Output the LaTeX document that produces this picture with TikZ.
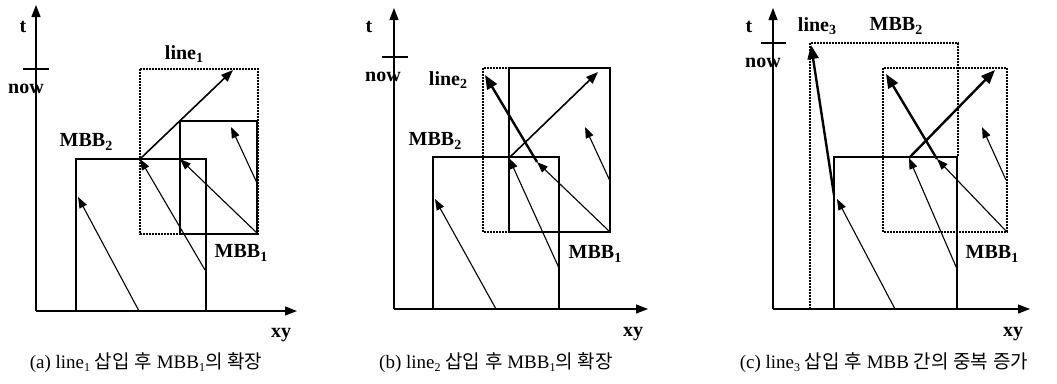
\documentclass[tikz,border=0pt]{standalone}
\usepackage{fontspec}
\setmainfont{Liberation Serif}
\newfontfamily\krfont{Noto Sans CJK KR}
\usetikzlibrary{arrows.meta}
\newcommand\lowsub[1]{\raisebox{-0.35ex}{\fontsize{14}{14}\selectfont #1}}
\newcommand\capsub[1]{\raisebox{-0.3ex}{\fontsize{12}{12}\selectfont #1}}
\begin{document}
\begin{tikzpicture}[x=1pt,y=-1pt,
  ax/.style={line width=1.3pt,-{Triangle[length=12pt,width=9pt]}},
  tk/.style={line width=1.3pt},
  box/.style={line width=1.3pt},
  dbox/.style={line width=1.6pt,dash pattern=on 1.6pt off 1.4pt},
  thinarr/.style={line width=1.1pt,-{Triangle[length=11pt,width=8pt]}},
  thickarr/.style={line width=2.4pt,-{Triangle[length=14pt,width=11pt]}},
  midarr/.style={line width=1.6pt,-{Triangle[length=12pt,width=9pt]}},
  lbl/.style={font=\fontsize{20}{20}\selectfont\bfseries,inner sep=0pt},
  captxt/.style={font=\fontsize{19}{19}\selectfont,inner sep=0pt}]
\useasboundingbox (0,0) rectangle (1057,383);

% ---------------- panel (a) ----------------
\coordinate (aO) at (36,311);
\coordinate (aT) at (36,5);
\coordinate (aX) at (297,311);
\coordinate (aK1) at (23,69);
\coordinate (aK2) at (49,69);
\draw[ax] (aO) -- (aT);
\draw[ax] (aO) -- (aX);
\draw[tk] (aK1) -- (aK2);
\node[lbl] (at) at (23,27) {t};
\node[lbl] (anow) at (26,89) {now};
\node[lbl] (aline) at (184,54) {line\lowsub{1}};
\node[lbl] (ambb2) at (86,142) {MBB\lowsub{2}};
\node[lbl] (ambb1) at (241,253) {MBB\lowsub{1}};
\node[lbl] (axy) at (281,335) {xy};
\draw[dbox] (140,69) rectangle (258,234);
\draw[box] (180,121) rectangle (257,234);
\draw[box] (76,311) -- (76,159) -- (206,159) -- (206,311);
\coordinate (a1s) at (257,233); \coordinate (a1e) at (180,159);
\coordinate (a2s) at (257,183); \coordinate (a2e) at (231,127);
\coordinate (a3s) at (205,270); \coordinate (a3e) at (140,159);
\coordinate (a4e) at (233,70);
\coordinate (a5s) at (139,311); \coordinate (a5e) at (78,197);
\draw[thinarr] (a1s) -- (a1e);
\draw[thinarr] (a2s) -- (a2e);
\draw[thinarr] (a3s) -- (a3e);
\draw[midarr] (a3e) -- (a4e);
\draw[thinarr] (a5s) -- (a5e);
\node[captxt] (acap) at (146,363) {(a) line\capsub{1} {\krfont 삽입} {\krfont 후} MBB\capsub{1}{\krfont 의} {\krfont 확장}};

% ---------------- panel (b) ----------------
\coordinate (bO) at (394,309);
\coordinate (bT) at (394,8);
\coordinate (bX) at (648,309);
\coordinate (bK1) at (382,57);
\coordinate (bK2) at (408,57);
\draw[ax] (bO) -- (bT);
\draw[ax] (bO) -- (bX);
\draw[tk] (bK1) -- (bK2);
\node[lbl] (bt) at (369,27) {t};
\node[lbl] (bnow) at (383,77) {now};
\node[lbl] (bline) at (448,80) {line\lowsub{2}};
\node[lbl] (bmbb2) at (435,141) {MBB\lowsub{2}};
\node[lbl] (bmbb1) at (595,254) {MBB\lowsub{1}};
\node[lbl] (bxy) at (633,334) {xy};
\draw[dbox] (483,68) rectangle (610,232);
\draw[box] (509,68) rectangle (610,232);
\draw[box] (433,309) -- (433,157) -- (559,157) -- (559,309);
\coordinate (b1s) at (610,232); \coordinate (b1e) at (537,162);
\coordinate (b2e) at (485,75);
\coordinate (b3s) at (610,181); \coordinate (b3e) at (585,127);
\coordinate (b4s) at (559,268); \coordinate (b4e) at (509,158);
\coordinate (b5e) at (598,72);
\coordinate (b6s) at (496,309); \coordinate (b6e) at (435,199);
\draw[thinarr] (b1s) -- (b1e);
\draw[thickarr] (b1e) -- (b2e);
\draw[thinarr] (b3s) -- (b3e);
\draw[thinarr] (b4s) -- (b4e);
\draw[midarr] (b4e) -- (b5e);
\draw[thinarr] (b6s) -- (b6e);
\node[captxt] (bcap) at (496,363) {(b) line\capsub{2} {\krfont 삽입} {\krfont 후} MBB\capsub{1}{\krfont 의} {\krfont 확장}};

% ---------------- panel (c) ----------------
\coordinate (cO) at (773,309);
\coordinate (cT) at (773,8);
\coordinate (cX) at (1030,309);
\coordinate (cK1) at (761,43);
\coordinate (cK2) at (786,43);
\draw[ax] (cO) -- (cT);
\draw[ax] (cO) -- (cX);
\draw[tk] (cK1) -- (cK2);
\node[lbl] (ct) at (749,27) {t};
\node[lbl] (cnow) at (763,63) {now};
\node[lbl] (cline) at (817,26) {line\lowsub{3}};
\node[lbl] (cmbb2) at (896,26) {MBB\lowsub{2}};
\node[lbl] (cmbb1) at (992,254) {MBB\lowsub{1}};
\node[lbl] (cxy) at (1013,334) {xy};
\draw[dbox] (810,309) -- (810,43) -- (958,43) -- (958,157);
\draw[dbox] (883,68) rectangle (1007,232);
\draw[box] (834,309) -- (834,157) -- (957,157) -- (957,309);
\coordinate (c1s) at (1006,231); \coordinate (c1e) at (937,159);
\coordinate (c2e) at (886,74);
\coordinate (c3s) at (1006,180); \coordinate (c3e) at (982,127);
\coordinate (c4s) at (957,269); \coordinate (c4e) at (909,158);
\coordinate (c5e) at (995,70);
\coordinate (c6s) at (895,309); \coordinate (c6e) at (837,199);
\coordinate (c7s) at (834,195); \coordinate (c7e) at (811,45);
\draw[thinarr] (c1s) -- (c1e);
\draw[thickarr] (c1e) -- (c2e);
\draw[thinarr] (c3s) -- (c3e);
\draw[thinarr] (c4s) -- (c4e);
\draw[thickarr] (c4e) -- (c5e);
\draw[thinarr] (c6s) -- (c6e);
\draw[thickarr] (c7s) -- (c7e);
\node[captxt] (ccap) at (884,363) {(c) line\capsub{3} {\krfont 삽입} {\krfont 후} MBB {\krfont 간의} {\krfont 중복} {\krfont 증가}};
\end{tikzpicture}
\end{document}
